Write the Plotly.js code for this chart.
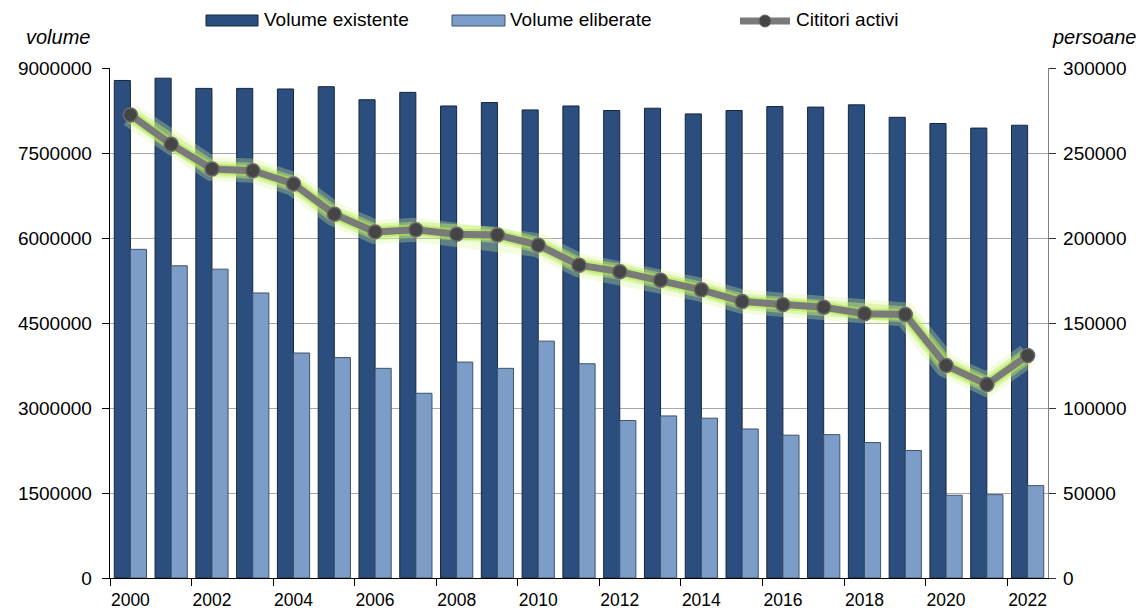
<!DOCTYPE html>
<html>
<head>
<meta charset="utf-8">
<script src="https://cdn.plot.ly/plotly-3.0.1.min.js"></script>
<style>
  html, body { margin: 0; padding: 0; background: #ffffff; }
  #chart { width: 1140px; height: 612px; }
</style>
</head>
<body>
<div id="chart"></div>
<script>
// ---- data ----
const years = ['2000','2001','2002','2003','2004','2005','2006','2007','2008','2009','2010','2011','2012','2013','2014','2015','2016','2017','2018','2019','2020','2021','2022'];
const volumeExistente = [8780000, 8820000, 8640000, 8640000, 8630000, 8670000, 8440000, 8570000, 8330000, 8390000, 8260000, 8330000, 8250000, 8290000, 8190000, 8250000, 8320000, 8310000, 8350000, 8130000, 8020000, 7940000, 7990000];
const volumeEliberate = [5800000, 5510000, 5450000, 5030000, 3970000, 3890000, 3700000, 3260000, 3810000, 3700000, 4180000, 3780000, 2780000, 2860000, 2820000, 2630000, 2520000, 2530000, 2390000, 2250000, 1460000, 1470000, 1630000];
const cititoriActivi = [272400, 255100, 240600, 239600, 231800, 214000, 203600, 204800, 202200, 201800, 195800, 184000, 180200, 175200, 169500, 162600, 160800, 159300, 155400, 155000, 125000, 113800, 130900];
const leftTicks = [0, 1500000, 3000000, 4500000, 6000000, 7500000, 9000000];
const rightTicks = [0, 50000, 100000, 150000, 200000, 250000, 300000];
const seriesNames = ['Volume existente', 'Volume eliberate', 'Cititori activi'];
const leftTitle = 'volume';
const rightTitle = 'persoane';

// ---- layout geometry (pixels) ----
const W = 1140, H = 612;
const M = {l: 110, r: 92, t: 68, b: 34};
const pw = W - M.l - M.r, ph = H - M.t - M.b;
const px = x => (x - M.l) / pw;
const py = y => (H - M.b - y) / ph;

const FONT = 'Liberation Sans, Arial, sans-serif';
const darkBlue = '#2b4e7e';
const lightBlue = '#7c9dc8';

const traces = [
  {
    type: 'bar', x: years, y: volumeExistente, name: seriesNames[0],
    marker: {color: darkBlue, line: {color: '#16273f', width: 1}},
    yaxis: 'y', hoverinfo: 'x+y'
  },
  {
    type: 'bar', x: years, y: volumeEliberate, name: seriesNames[1],
    marker: {color: lightBlue, line: {color: '#3f526b', width: 1}},
    yaxis: 'y', hoverinfo: 'x+y'
  },
  {
    type: 'scatter', mode: 'lines', x: years, y: cititoriActivi, yaxis: 'y2',
    line: {color: 'rgba(215,245,150,0.3)', width: 24}, hoverinfo: 'skip', showlegend: false
  },
  {
    type: 'scatter', mode: 'lines', x: years, y: cititoriActivi, yaxis: 'y2',
    line: {color: 'rgba(195,238,110,0.45)', width: 16}, hoverinfo: 'skip', showlegend: false
  },
  {
    type: 'scatter', mode: 'lines', x: years, y: cititoriActivi, yaxis: 'y2',
    line: {color: 'rgba(175,230,80,0.6)', width: 11}, hoverinfo: 'skip', showlegend: false
  },
  {
    type: 'scatter', mode: 'lines+markers', x: years, y: cititoriActivi, name: seriesNames[2],
    yaxis: 'y2',
    line: {color: '#7a7a7a', width: 7},
    marker: {color: '#454545', size: 14, line: {color: '#6a6a6a', width: 1.5}}
  }
];

// custom legend (Excel-style wide symbols)
const shapes = [
  {type: 'rect', xref: 'paper', yref: 'paper', x0: px(206), x1: px(258), y0: py(26), y1: py(15),
   fillcolor: darkBlue, line: {color: '#16273f', width: 1}},
  {type: 'rect', xref: 'paper', yref: 'paper', x0: px(452), x1: px(505), y0: py(26), y1: py(15),
   fillcolor: lightBlue, line: {color: '#3f526b', width: 1}},
  {type: 'line', xref: 'paper', yref: 'paper', x0: px(740), x1: px(790), y0: py(21), y1: py(21),
   line: {color: '#7a7a7a', width: 7}},
  {type: 'circle', xref: 'paper', yref: 'paper', x0: px(759), x1: px(771), y0: py(27), y1: py(15),
   fillcolor: '#454545', line: {color: '#6a6a6a', width: 1}}
];

const annotations = [
  {xref: 'paper', yref: 'paper', x: px(262), y: py(20), xanchor: 'left', yanchor: 'middle',
   text: seriesNames[0], showarrow: false, font: {family: FONT, size: 19, color: '#000'}},
  {xref: 'paper', yref: 'paper', x: px(508), y: py(20), xanchor: 'left', yanchor: 'middle',
   text: seriesNames[1], showarrow: false, font: {family: FONT, size: 19, color: '#000'}},
  {xref: 'paper', yref: 'paper', x: px(794), y: py(20), xanchor: 'left', yanchor: 'middle',
   text: seriesNames[2], showarrow: false, font: {family: FONT, size: 19, color: '#000'}},
  {xref: 'paper', yref: 'paper', x: px(92), y: py(37), xanchor: 'right', yanchor: 'middle',
   text: '<i>' + leftTitle + '</i>', showarrow: false, font: {family: FONT, size: 20, color: '#000'}},
  {xref: 'paper', yref: 'paper', x: px(1138), y: py(37), xanchor: 'right', yanchor: 'middle',
   text: '<i>' + rightTitle + '</i>', showarrow: false, font: {family: FONT, size: 20, color: '#000'}}
];

const layout = {
  width: W, height: H,
  margin: M,
  paper_bgcolor: '#ffffff', plot_bgcolor: '#ffffff',
  showlegend: false,
  barmode: 'group', bargap: 0.21, bargroupgap: 0,
  font: {family: FONT, size: 17, color: '#000'},
  xaxis: {
    type: 'category', range: [-0.5, years.length - 0.5],
    showgrid: false, showline: true, linecolor: '#000', linewidth: 1.3,
    ticks: 'outside', tickson: 'boundaries', ticklen: 7, tickcolor: '#000', dtick: 2,
    tickangle: 0, automargin: false,
    tickfont: {family: FONT, size: 17.5, color: '#000'}, zeroline: false,
    ticklabelstandoff: 6
  },
  yaxis: {
    range: [0, 9000000], tickvals: leftTicks, ticktext: leftTicks.map(String),
    showgrid: true, gridcolor: '#a8a8a8', gridwidth: 1, automargin: false,
    showline: true, linecolor: '#000', linewidth: 1.3, zeroline: false,
    ticks: 'outside', ticklen: 7, tickcolor: '#000',
    tickfont: {family: FONT, size: 19, color: '#000'}, ticklabelstandoff: 6
  },
  yaxis2: {
    range: [0, 300000], overlaying: 'y', side: 'right', automargin: false,
    tickvals: rightTicks, ticktext: rightTicks.map(String),
    showgrid: false, showline: true, linecolor: '#808080', linewidth: 1.3, zeroline: false,
    ticks: 'outside', ticklen: 7, tickcolor: '#333',
    tickfont: {family: FONT, size: 19, color: '#000'}, ticklabelstandoff: 3
  },
  shapes: shapes,
  annotations: annotations
};

Plotly.newPlot('chart', traces, layout, {displayModeBar: false, staticPlot: true});
</script>
</body>
</html>
